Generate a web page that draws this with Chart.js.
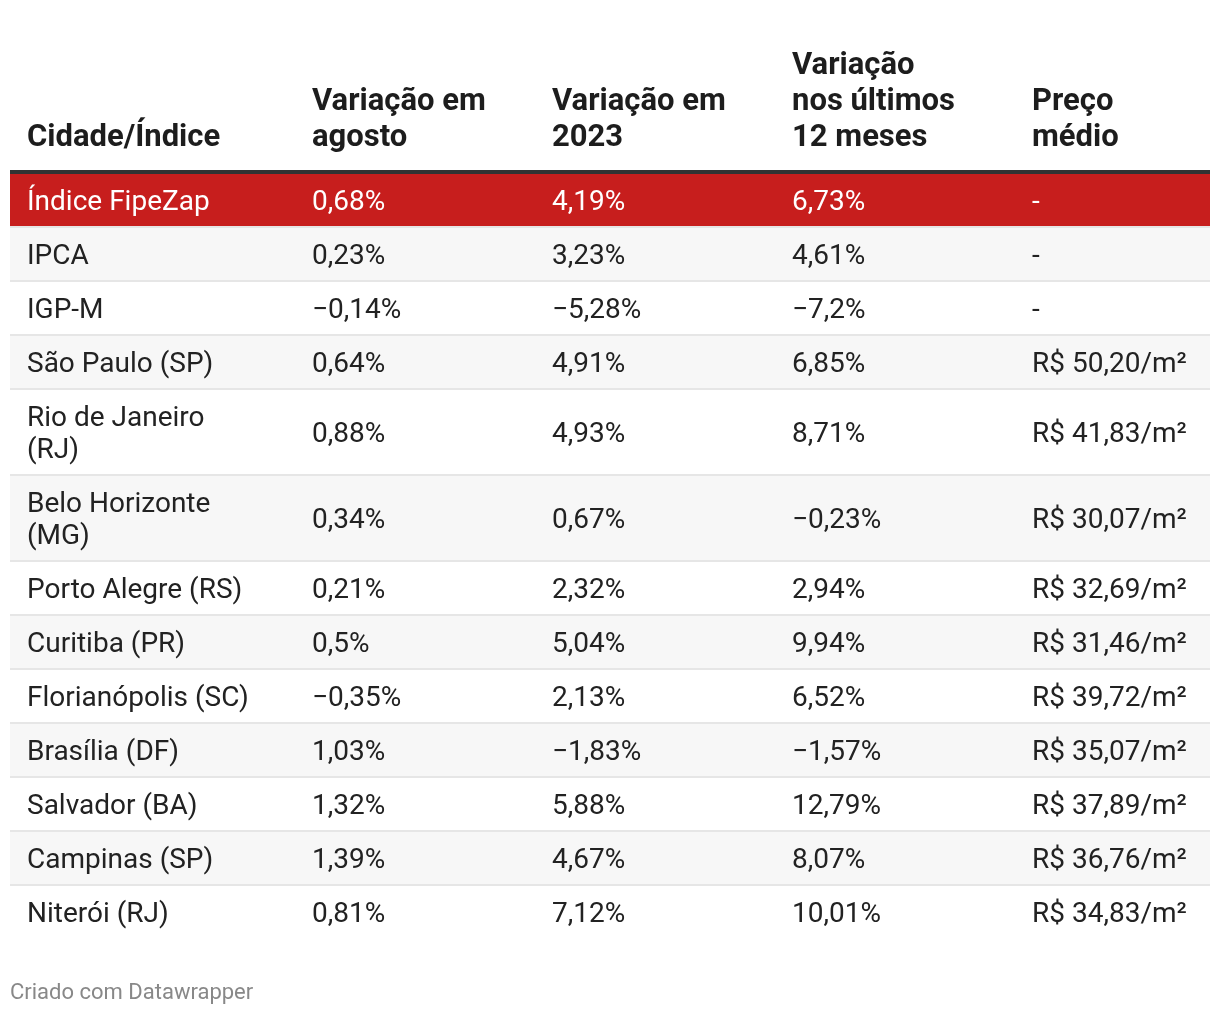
<!DOCTYPE html>
<html lang="pt-BR">
<head>
<meta charset="utf-8">
<title>Índice FipeZap – variação por cidade</title>
<script src="https://cdn.jsdelivr.net/npm/chart.js@4.4.1/dist/chart.umd.min.js"></script>
<style>
  html, body { margin: 0; padding: 0; background: #fff; }
  #wrap { position: relative; width: 1220px; height: 1014px; }
</style>
</head>
<body>
<div id="wrap"><canvas id="tabela" width="1220" height="1014"></canvas></div>
<script>
// Dados da tabela
const colunas = [['Cidade/Índice'], ['Variação em', 'agosto'], ['Variação em', '2023'], ['Variação', 'nos últimos', '12 meses'], ['Preço', 'médio']];
const cidades = ['Índice FipeZap', 'IPCA', 'IGP-M', 'São Paulo (SP)', 'Rio de Janeiro (RJ)', 'Belo Horizonte (MG)',
  'Porto Alegre (RS)', 'Curitiba (PR)', 'Florianópolis (SC)', 'Brasília (DF)', 'Salvador (BA)', 'Campinas (SP)', 'Niterói (RJ)'];
const varAgosto = [0.68, 0.23, -0.14, 0.64, 0.88, 0.34, 0.21, 0.5, -0.35, 1.03, 1.32, 1.39, 0.81];
const var2023 = [4.19, 3.23, -5.28, 4.91, 4.93, 0.67, 2.32, 5.04, 2.13, -1.83, 5.88, 4.67, 7.12];
const var12m = [6.73, 4.61, -7.2, 6.85, 8.71, -0.23, 2.94, 9.94, 6.52, -1.57, 12.79, 8.07, 10.01];
const precoMedio = [null, null, null, 50.20, 41.83, 30.07, 32.69, 31.46, 39.72, 35.07, 37.89, 36.76, 34.83];
const destaque = 0; // linha em vermelho

const fonte = 'Roboto, "Noto Sans", sans-serif';
const vermelho = '#c71e1d';

function pct(v) {
  return (v < 0 ? '\u2212' : '') + String(Math.abs(v)).replace('.', ',') + '%';
}
function preco(v) {
  return v === null ? '-' : 'R$ ' + v.toFixed(2).replace('.', ',') + '/m²';
}

// quebra de linha da primeira coluna
const medidor = document.createElement('canvas').getContext('2d');
medidor.font = '28px ' + fonte;
function quebrar(texto, largura) {
  const linhas = [];
  let atual = '';
  texto.split(' ').forEach(p => {
    const teste = atual ? atual + ' ' + p : p;
    if (atual && medidor.measureText(teste).width > largura) {
      linhas.push(atual);
      atual = p;
    } else {
      atual = teste;
    }
  });
  linhas.push(atual);
  return linhas;
}

const linhasCidade = cidades.map(c => quebrar(c, 226));

// faixas verticais de cada linha (em px, eixo y invertido)
let topo = 174;
const faixas = linhasCidade.map(l => {
  const alt = l.length * 32 + 20;
  const f = [topo, topo + alt];
  topo += alt + 2;
  return f;
});

const colX = [17, 302, 542, 782, 1022];

const tabelaPlugin = {
  id: 'tabela',
  afterDatasetsDraw(chart) {
    const { ctx, chartArea: a, scales: { y } } = chart;
    ctx.save();

    // separadores
    ctx.fillStyle = '#e6e6e6';
    faixas.slice(0, -1).forEach(f => {
      ctx.fillRect(a.left, y.getPixelForValue(f[1]), a.width, 2);
    });
    // borda do cabeçalho
    ctx.fillStyle = '#333';
    ctx.fillRect(a.left, y.getPixelForValue(170), a.width, 4);

    // cabeçalho
    ctx.textAlign = 'left';
    ctx.textBaseline = 'alphabetic';
    ctx.fillStyle = '#1d1d1d';
    ctx.font = 'bold 31px ' + fonte;
    colunas.forEach((linhas, j) => {
      linhas.forEach((t, k) => {
        const base = 146 - (linhas.length - 1 - k) * 36;
        ctx.fillText(t, a.left + colX[j], y.getPixelForValue(base));
      });
    });

    // células
    ctx.font = '28px ' + fonte;
    cidades.forEach((c, i) => {
      const meio = (faixas[i][0] + faixas[i][1]) / 2;
      ctx.fillStyle = i === destaque ? '#fff' : '#222';
      const celulas = [linhasCidade[i], [pct(varAgosto[i])], [pct(var2023[i])], [pct(var12m[i])], [preco(precoMedio[i])]];
      celulas.forEach((linhas, j) => {
        linhas.forEach((t, k) => {
          const base = meio - (linhas.length - 1) * 16 + k * 32 + 10;
          ctx.fillText(t, a.left + colX[j], y.getPixelForValue(base));
        });
      });
    });

    // rodapé
    ctx.font = '22px ' + fonte;
    ctx.fillStyle = '#888';
    ctx.fillText('Criado com Datawrapper', 10, 999);
    ctx.restore();
  }
};

new Chart(document.getElementById('tabela'), {
  type: 'bar',
  data: {
    labels: ['tabela'],
    datasets: cidades.map((c, i) => ({
      label: c,
      data: [faixas[i]],
      backgroundColor: i === destaque ? vermelho : (i % 2 ? '#f7f7f7' : '#ffffff'),
      grouped: false,
      barPercentage: 1,
      categoryPercentage: 1,
      borderWidth: 0
    }))
  },
  options: {
    responsive: false,
    animation: false,
    layout: { padding: { left: 10, right: 10, top: 0, bottom: 0 } },
    scales: {
      x: { display: false },
      y: { display: false, reverse: true, min: 0, max: 1014 }
    },
    plugins: {
      legend: { display: false },
      tooltip: { enabled: false }
    }
  },
  plugins: [tabelaPlugin]
});
</script>
</body>
</html>
